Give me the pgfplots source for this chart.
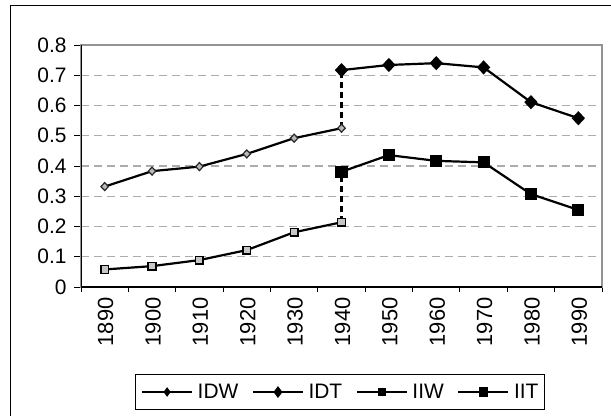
\documentclass[border=0pt]{standalone}
\usepackage{pgfplots}
\pgfplotsset{compat=1.18}
\usepackage{fontspec}
\setmainfont{Liberation Sans}
\begin{document}
\begin{tikzpicture}[x=1bp,y=1bp]
\path[use as bounding box] (0,0) rectangle (611,415);
\draw[line width=1bp] (10.5,-5) -- (10.5,409.5) -- (620,409.5);
\begin{axis}[
 at={(81bp,128bp)}, anchor=south west,
 scale only axis, width=521bp, height=242bp,
 xmin=-0.5, xmax=10.5, ymin=0, ymax=0.8,
 xtick={0,...,10},
 xticklabels={1890,1900,1910,1920,1930,1940,1950,1960,1970,1980,1990},
 major x tick style={draw=none},
 minor xtick={-0.5,0.5,...,10.5},
 minor x tick style={black, line width=1bp},
 ytick={0,0.1,...,0.8},
 yticklabels={0,0.1,0.2,0.3,0.4,0.5,0.6,0.7,0.8},
 y tick style={black, line width=1bp},
 tick align=outside,
 major tick length=7bp, minor tick length=5bp,
 xtick pos=bottom, ytick pos=left,
 xticklabel style={rotate=90, anchor=east, yshift=-1bp, font=\fontsize{22}{24}\selectfont},
 yticklabel style={font=\fontsize{21}{24}\selectfont, xshift=-4bp},
 ymajorgrids,
 major grid style={draw=gray!65, line width=1.2bp, dash pattern=on 8bp off 5bp},
 axis line style={draw=gray!85, line width=2bp},
 legend columns=4,
 legend style={at={(0.498,-0.434)}, anchor=center, draw=black, line width=1bp,
   font=\fontsize{21}{25}\selectfont, inner xsep=5bp, inner ysep=8bp,
   nodes={inner sep=1.5bp},
   /tikz/every odd column/.append style={column sep=3bp},
   /tikz/every even column/.append style={column sep=12bp}},
 legend image code/.code={\draw[mark repeat=2,mark phase=2,#1,mark options={scale=0.75}] plot coordinates {(0bp,0bp)(25bp,0bp)(50bp,0bp)};},
]
\draw[black, line width=1.2bp] (rel axis cs:0,1) -- (rel axis cs:0,0) -- (rel axis cs:1,0);
\addplot[black, line width=2.2bp, dash pattern=on 6bp off 4bp, forget plot] coordinates {(5,0.525)(5,0.717)};
\addplot[black, line width=2.2bp, dash pattern=on 6bp off 4bp, forget plot] coordinates {(5,0.214)(5,0.40)};
\addplot[black, line width=2.2bp, mark=diamond*, mark size=4bp,
  mark options={solid, fill=gray!55, draw=gray!30!black, line width=1.2bp, xscale=1.25}]
  coordinates {(0,0.332)(1,0.383)(2,0.398)(3,0.440)(4,0.492)(5,0.525)};
\addlegendentry{IDW}
\addplot[black, line width=2.2bp, mark=diamond*, mark size=5.5bp,
  mark options={solid, fill=black, draw=black, xscale=1.25}]
  coordinates {(5,0.717)(6,0.734)(7,0.740)(8,0.726)(9,0.611)(10,0.558)};
\addlegendentry{IDT}
\addplot[black, line width=2.2bp, mark=square*, mark size=3.8bp,
  mark options={solid, fill=gray!45, draw=black, line width=1.5bp}]
  coordinates {(0,0.058)(1,0.069)(2,0.089)(3,0.122)(4,0.181)(5,0.214)};
\addlegendentry{IIW}
\addplot[black, line width=2.2bp, mark=square*, mark size=5bp,
  mark options={solid, fill=black, draw=black}]
  coordinates {(5,0.381)(6,0.436)(7,0.417)(8,0.412)(9,0.307)(10,0.255)};
\addlegendentry{IIT}
\end{axis}
\end{tikzpicture}
\end{document}
